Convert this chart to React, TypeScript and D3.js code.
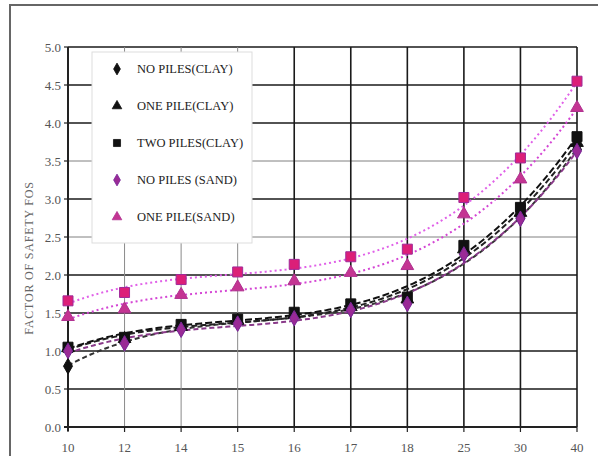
import React from "react";
import * as d3 from "d3";

const categories = ["10", "12", "14", "15", "16", "17", "18", "25", "30", "40"];
const yTicks = [0, 0.5, 1.0, 1.5, 2.0, 2.5, 3.0, 3.5, 4.0, 4.5, 5.0];

const noPilesClay = [0.8, 1.12, 1.3, 1.38, 1.45, 1.55, 1.64, 2.28, 2.75, 3.65];
const onePileClay = [1.04, 1.16, 1.32, 1.4, 1.48, 1.58, 1.68, 2.34, 2.82, 3.74];
const twoPilesClay = [1.05, 1.18, 1.35, 1.42, 1.51, 1.62, 1.71, 2.39, 2.89, 3.82];
const noPilesSand = [1.0, 1.1, 1.28, 1.36, 1.43, 1.54, 1.62, 2.27, 2.74, 3.63];
const onePileSand = [1.45, 1.55, 1.74, 1.84, 1.92, 2.03, 2.12, 2.8, 3.26, 4.2];
const twoPilesSand = [1.66, 1.77, 1.94, 2.04, 2.14, 2.24, 2.34, 3.02, 3.54, 4.55];

type Series = {
  name: string;
  values: number[];
  marker: "diamond" | "triangle" | "square";
  fill: string;
  stroke: string;
  lineColor: string;
  dash: string;
  legend: boolean;
};

const series: Series[] = [
  { name: "NO PILES(CLAY)", values: noPilesClay, marker: "diamond", fill: "#111", stroke: "#111", lineColor: "#333", dash: "5,3", legend: true },
  { name: "ONE PILE(CLAY)", values: onePileClay, marker: "triangle", fill: "#111", stroke: "#111", lineColor: "#222", dash: "6,3", legend: true },
  { name: "TWO PILES(CLAY)", values: twoPilesClay, marker: "square", fill: "#111", stroke: "#111", lineColor: "#111", dash: "7,3", legend: true },
  { name: "NO PILES (SAND)", values: noPilesSand, marker: "diamond", fill: "#9a2a96", stroke: "#7a2a9a", lineColor: "#8a3a8a", dash: "5,3", legend: true },
  { name: "ONE PILE(SAND)", values: onePileSand, marker: "triangle", fill: "#c43592", stroke: "#b03090", lineColor: "#d445d4", dash: "2,3", legend: true },
  { name: "TWO PILES(SAND)", values: twoPilesSand, marker: "square", fill: "#dc1f78", stroke: "#a02a9a", lineColor: "#e060e8", dash: "2,3", legend: false },
];

function markerPath(type: string, size: number) {
  const sym = type === "diamond" ? d3.symbolDiamond : type === "triangle" ? d3.symbolTriangle : d3.symbolSquare;
  return d3.symbol().type(sym).size(size)() as string;
}

// least-squares polynomial trendline (like a spreadsheet trendline) over category index
function polyFit(vals: number[], deg: number): number[] {
  const n = deg + 1;
  const A: number[][] = Array.from({ length: n }, () => new Array(n + 1).fill(0));
  vals.forEach((v, i) => {
    for (let r = 0; r < n; r++) {
      for (let c = 0; c < n; c++) A[r][c] += Math.pow(i, r + c);
      A[r][n] += v * Math.pow(i, r);
    }
  });
  for (let p = 0; p < n; p++) {
    let max = p;
    for (let r = p + 1; r < n; r++) if (Math.abs(A[r][p]) > Math.abs(A[max][p])) max = r;
    [A[p], A[max]] = [A[max], A[p]];
    for (let r = 0; r < n; r++) {
      if (r === p) continue;
      const f = A[r][p] / A[p][p];
      for (let c = p; c <= n; c++) A[r][c] -= f * A[p][c];
    }
  }
  return A.map((row, i) => row[n] / row[i]);
}

export default function App() {
  const W = 598;
  const H = 456;
  const left = 68, right = 577, top = 47, bottom = 427;
  const x = d3.scalePoint<string>().domain(categories).range([left, right]).padding(0);
  const xi = d3.scaleLinear().domain([0, categories.length - 1]).range([left, right]);
  const y = d3.scaleLinear().domain([0, 5]).range([bottom, top]);
  const font = "'Liberation Serif', 'Times New Roman', serif";

  const trend = (vals: number[]) => {
    const coef = polyFit(vals, 3);
    const pts = d3.range(0, vals.length - 1 + 0.001, 0.05).map((t) => [t, coef.reduce((s, c, k) => s + c * Math.pow(t, k), 0)] as [number, number]);
    return d3
      .line<[number, number]>()
      .x((d) => xi(d[0]))
      .y((d) => y(d[1]))(pts) as string;
  };

  const lightV = ["12", "14", "15"];

  return (
    <svg width={W} height={H} style={{ position: "absolute", left: 0, top: 0, background: "#fff" }}>
      <rect x={0} y={0} width={W} height={H} fill="#fff" />
      <rect x={10} y={5} width={W + 20} height={H + 20} fill="none" stroke="#666" strokeWidth={2} />
      {yTicks.map((t) => (
        <line key={"h" + t} x1={left} x2={right} y1={y(t)} y2={y(t)} stroke="#1a1a1a" strokeWidth={t === 2.5 || t === 3.5 ? 1 : 1.6} opacity={t === 2.5 || t === 3.5 ? 0.55 : 1} />
      ))}
      {categories.map((c) => (
        <line key={"v" + c} x1={x(c)} x2={x(c)} y1={top} y2={bottom} stroke={lightV.includes(c) ? "#8a8a8a" : "#1a1a1a"} strokeWidth={lightV.includes(c) ? 1 : 1.6} />
      ))}
      <line x1={left} x2={left} y1={top} y2={bottom + 4} stroke="#222" strokeWidth={2} />
      <line x1={left - 4} x2={right} y1={bottom} y2={bottom} stroke="#222" strokeWidth={2} />
      {yTicks.map((t) => (
        <g key={"yt" + t}>
          <line x1={left - 4} x2={left} y1={y(t)} y2={y(t)} stroke="#222" strokeWidth={1.2} />
          <text x={left - 7} y={y(t)} dy="0.35em" textAnchor="end" fontFamily={font} fontSize={13} fill="#555">
            {t.toFixed(1)}
          </text>
        </g>
      ))}
      {categories.map((c) => (
        <g key={"xt" + c}>
          <line x1={x(c)} x2={x(c)} y1={bottom} y2={bottom + 5} stroke="#222" strokeWidth={1.2} />
          <text x={x(c)} y={bottom + 25} textAnchor="middle" fontFamily={font} fontSize={13} fill="#555">
            {c}
          </text>
        </g>
      ))}
      <text
        transform={`translate(${33},${258}) rotate(-90)`}
        textAnchor="middle"
        fontFamily={font}
        fontSize={12}
        fill="#666"
        letterSpacing={0.8}
      >
        FACTOR OF SAFETY FOS
      </text>
      {series.map((s) => (
        <path key={"l" + s.name} d={trend(s.values)} fill="none" stroke={s.lineColor} strokeWidth={2} strokeDasharray={s.dash} />
      ))}
      {series.map((s) =>
        s.values.map((v, i) => (
          <path
            key={"m" + s.name + i}
            d={markerPath(s.marker, s.marker === "square" ? 100 : 70)}
            transform={`translate(${x(categories[i])},${y(v)})`}
            fill={s.fill}
            stroke={s.stroke}
            strokeWidth={1}
          />
        ))
      )}
      <rect x={92} y={52} width={160} height={191} fill="#fff" stroke="#ddd" strokeWidth={1} />
      {series
        .filter((s) => s.legend)
        .map((s, i) => {
          const ly = 69 + i * 37;
          return (
            <g key={"lg" + s.name}>
              <path d={markerPath(s.marker, s.marker === "square" ? 50 : 40)} transform={`translate(117,${ly})`} fill={s.fill} stroke={s.stroke} strokeWidth={0.8} />
              <text x={137} y={ly} dy="0.35em" fontFamily={font} fontSize={12.5} fill="#222">
                {s.name}
              </text>
            </g>
          );
        })}
    </svg>
  );
}
